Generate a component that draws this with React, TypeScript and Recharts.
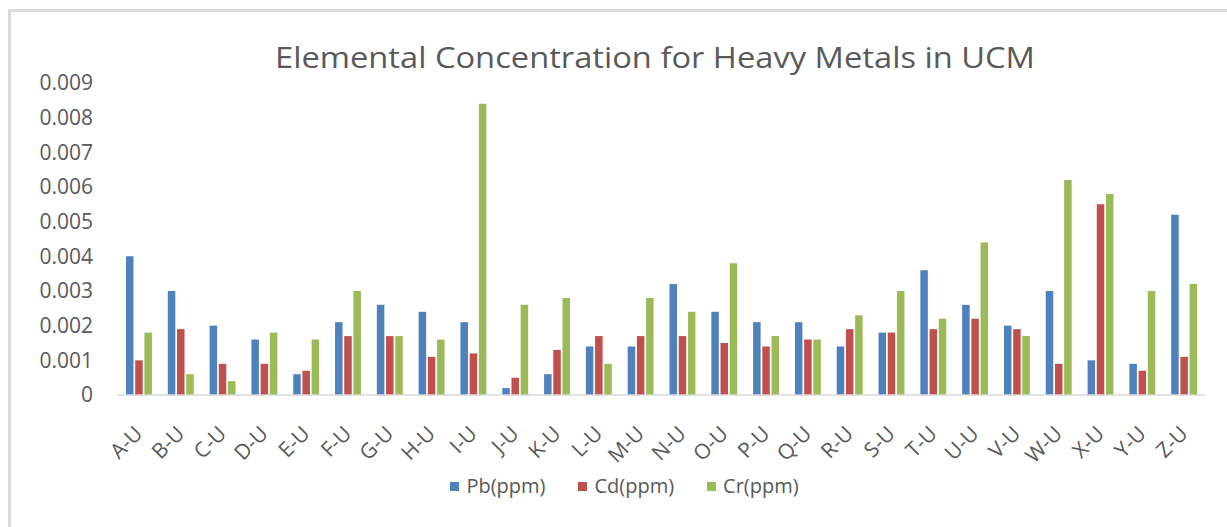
import React from 'react';
import { BarChart, Bar, XAxis, YAxis, Legend } from 'recharts';

const title = 'Elemental Concentration for Heavy Metals in UCM';
const categories = ['A-U', 'B-U', 'C-U', 'D-U', 'E-U', 'F-U', 'G-U', 'H-U', 'I-U', 'J-U', 'K-U', 'L-U', 'M-U', 'N-U', 'O-U', 'P-U', 'Q-U', 'R-U', 'S-U', 'T-U', 'U-U', 'V-U', 'W-U', 'X-U', 'Y-U', 'Z-U'];
const seriesNames = ['Pb(ppm)', 'Cd(ppm)', 'Cr(ppm)'];
const seriesColors = ['#4F81BD', '#C0504D', '#9BBB59'];
const pb = [0.004, 0.003, 0.002, 0.0016, 0.0006, 0.0021, 0.0026, 0.0024, 0.0021, 0.0002, 0.0006, 0.0014, 0.0014, 0.0032, 0.0024, 0.0021, 0.0021, 0.0014, 0.0018, 0.0036, 0.0026, 0.002, 0.003, 0.001, 0.0009, 0.0052];
const cd = [0.001, 0.0019, 0.0009, 0.0009, 0.0007, 0.0017, 0.0017, 0.0011, 0.0012, 0.0005, 0.0013, 0.0017, 0.0017, 0.0017, 0.0015, 0.0014, 0.0016, 0.0019, 0.0018, 0.0019, 0.0022, 0.0019, 0.0009, 0.0055, 0.0007, 0.0011];
const cr = [0.0018, 0.0006, 0.0004, 0.0018, 0.0016, 0.003, 0.0017, 0.0016, 0.0084, 0.0026, 0.0028, 0.0009, 0.0028, 0.0024, 0.0038, 0.0017, 0.0016, 0.0023, 0.003, 0.0022, 0.0044, 0.0017, 0.0062, 0.0058, 0.003, 0.0032];
const yTicks = [0, 0.001, 0.002, 0.003, 0.004, 0.005, 0.006, 0.007, 0.008, 0.009];

const data = categories.map((name, i) => ({ name, pb: pb[i], cd: cd[i], cr: cr[i] }));
const keys = ['pb', 'cd', 'cr'];

const FONT = '"Open Sans", "DejaVu Sans", sans-serif';
const TEXT = '#595959';

const XTick = (props: any) => {
  const { x, y, payload } = props;
  return (
    <g transform={`translate(${x + 5},${y + 40}) rotate(-45)`}>
      <text x={0} y={0} textAnchor="end" fill={TEXT} fontSize={21} fontFamily={FONT}>
        {payload.value}
      </text>
    </g>
  );
};

const LegendContent = () => (
  <div style={{ display: 'flex', justifyContent: 'center', alignItems: 'center', height: 24, fontFamily: FONT, fontSize: 20, color: TEXT }}>
    {seriesNames.map((n, i) => (
      <div key={n} style={{ display: 'flex', alignItems: 'center', marginLeft: i === 0 ? 0 : 33 }}>
        <span style={{ display: 'inline-block', width: 9, height: 9, background: seriesColors[i], marginRight: 7 }} />
        <span style={{ lineHeight: '24px' }}>{n}</span>
      </div>
    ))}
  </div>
);

export default function App() {
  return (
    <div style={{ position: 'absolute', left: 0, top: 0, width: 1227, height: 527, background: '#fff', overflow: 'hidden' }}>
      <div style={{ position: 'absolute', left: 7.5, top: 9, width: 1260, height: 560, borderLeft: '3px solid #dcdcdc', borderTop: '3px solid #dcdcdc' }} />
      <svg style={{ position: 'absolute', left: 0, top: 0 }} width={1227} height={100}>
        <text x={655} y={68} textAnchor="middle" fill={TEXT} fontSize={30} fontFamily={FONT} textLength={760} lengthAdjust="spacingAndGlyphs">
          {title}
        </text>
      </svg>
      <div style={{ position: 'absolute', left: 0, top: 0 }}>
        <BarChart
          width={1227}
          height={527}
          data={data}
          margin={{ top: 83, right: 22, left: 0, bottom: 8 }}
          barSize={7.5}
          barGap={1.7}
        >
          <XAxis
            dataKey="name"
            interval={0}
            tickLine={false}
            tickSize={0}
            tickMargin={0}
            axisLine={{ stroke: '#d9d9d9', strokeWidth: 1.5 }}
            height={100}
            tick={<XTick />}
          />
          <YAxis
            width={118}
            domain={[0, 0.009]}
            ticks={yTicks}
            axisLine={false}
            tickLine={false}
            tickSize={0}
            tickMargin={25}
            interval={0}
            tickFormatter={(v: number) => (v === 0 ? '0' : v.toFixed(3))}
            tick={{ fill: TEXT, fontSize: 21, fontFamily: FONT }}
          />
          <Legend
            content={<LegendContent />}
            wrapperStyle={{ position: 'absolute', top: 474, left: 0, width: 1249, height: 24 }}
          />
          {keys.map((k, i) => (
            <Bar key={k} dataKey={k} name={seriesNames[i]} fill={seriesColors[i]} isAnimationActive={false} />
          ))}
        </BarChart>
      </div>
    </div>
  );
}
